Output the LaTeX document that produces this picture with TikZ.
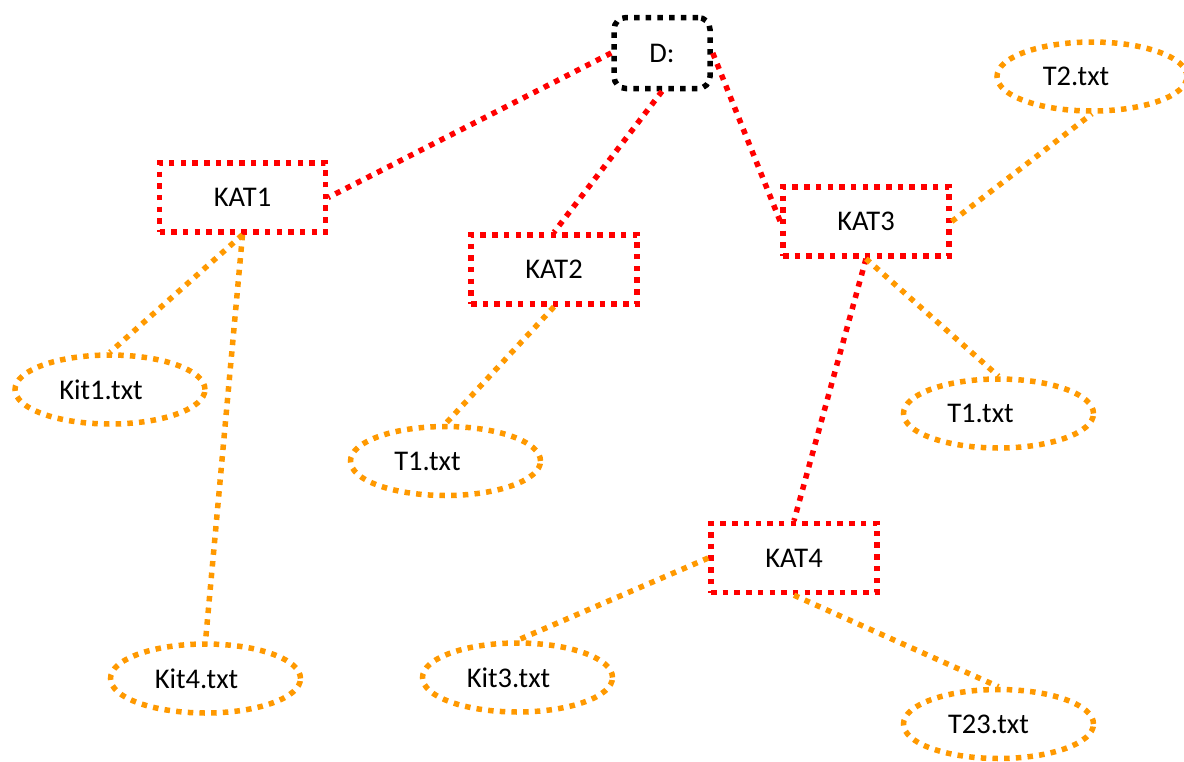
\documentclass[tikz,border=0pt]{standalone}
\usepackage{fontspec}
\setmainfont{Carlito}
\usetikzlibrary{shapes.geometric}
\definecolor{kred}{RGB}{255,0,0}
\definecolor{korange}{RGB}{255,153,0}
\tikzset{
  sq/.style={line width=5.5pt, dash pattern=on 5.5pt off 6.2pt},
  catbox/.style={draw=kred, sq, rectangle, minimum width=166pt, minimum height=69pt, inner sep=0pt, font=\fontsize{28.5}{33}\selectfont},
  rootbox/.style={draw=black, sq, rectangle, rounded corners=12pt, minimum width=96pt, minimum height=71pt, inner sep=0pt, font=\fontsize{28.5}{33}\selectfont},
  filell/.style={draw=korange, sq, ellipse, minimum width=190pt, minimum height=69pt, inner sep=0pt, font=\fontsize{28.5}{33}\selectfont},
  redlink/.style={draw=kred, sq},
  orlink/.style={draw=korange, sq},
}
\begin{document}
\begin{tikzpicture}[x=1pt, y=-1pt]
\useasboundingbox (0,0) rectangle (1184,761);
\node[rootbox] (D) at (662,53) {D:};
\node[catbox] (KAT1) at (242.5,197.5) {KAT1};
\node[catbox] (KAT2) at (554,269.5) {KAT2};
\node[catbox] (KAT3) at (866,221.5) {KAT3};
\node[catbox] (KAT4) at (794,558) {KAT4};
\node[filell] (T2) at (1092,76.5) {T2.txt\hspace*{32pt}};
\node[filell] (Kit1) at (110,389.5) {Kit1.txt\hspace*{18pt}};
\node[filell] (T1a) at (445.5,461) {T1.txt\hspace*{36pt}};
\node[filell] (T1b) at (998.5,413.5) {T1.txt\hspace*{36pt}};
\node[filell] (Kit4) at (205.5,678.5) {Kit4.txt\hspace*{18pt}};
\node[filell] (Kit3) at (517.5,677.5) {Kit3.txt\hspace*{18pt}};
\node[filell] (T23) at (998.5,724) {T23.txt\hspace*{20pt}};
\draw[redlink] (D.west) -- (KAT1.east);
\draw[redlink] (D.south) -- (KAT2.north);
\draw[redlink] (D.east) -- (KAT3.west);
\draw[redlink] (KAT3.south) -- (KAT4.north);
\draw[orlink] (KAT3.east) -- (T2.south);
\draw[orlink] (KAT3.south) -- (T1b.north);
\draw[orlink] (KAT1.south) -- (Kit1.north);
\draw[orlink] (KAT1.south) -- (Kit4.north);
\draw[orlink] (KAT2.south) -- (T1a.north);
\draw[orlink] (KAT4.west) -- (Kit3.north);
\draw[orlink] (KAT4.south) -- (T23.north);
\end{tikzpicture}
\end{document}
